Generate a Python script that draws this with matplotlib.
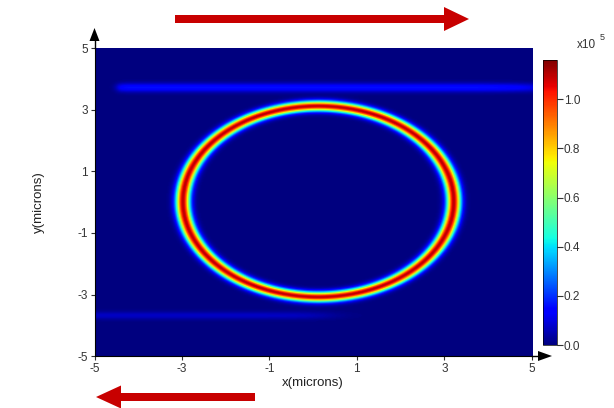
import matplotlib
matplotlib.use("Agg")
import matplotlib.pyplot as plt
import numpy as np
from matplotlib.patches import FancyArrow

plt.rcParams["font.family"] = ["Liberation Sans", "DejaVu Sans"]
plt.rcParams["axes.unicode_minus"] = False

# --- field parameters (units: microns, x1e5) ---
ring_center = (0.1, 0.0)
ring_radius = 3.1
ring_sigma = 0.115
ring_peak = 1.1

bus_y = [3.7, -3.7]            # top / bottom bus waveguide
bus_peak = [0.16, 0.07]
bus_sigma = [0.1, 0.09]
bus_x_start = [-4.5, -5.2]
bus_x_end = [5.2, 0.3]

vmax = 1.16
x_ticks = [-5, -3, -1, 1, 3, 5]
y_ticks = [-5, -3, -1, 1, 3, 5]
cb_ticks = [0.0, 0.2, 0.4, 0.6, 0.8, 1.0]

# --- build the intensity map ---
x = np.linspace(-5, 5, 400)
y = np.linspace(-5, 5, 300)
X, Y = np.meshgrid(x, y)
r = np.hypot(X - ring_center[0], Y - ring_center[1])
field = ring_peak * np.exp(-0.5 * ((r - ring_radius) / ring_sigma) ** 2)
for yc, a, s, x0, x1 in zip(bus_y, bus_peak, bus_sigma, bus_x_start, bus_x_end):
    on = 0.5 * (np.tanh((X - x0) / 0.1) - np.tanh((X - x1) / 0.6))
    field += a * on * np.exp(-0.5 * ((Y - yc) / s) ** 2)

fig = plt.figure(figsize=(6.14, 4.08), dpi=100)
ax = fig.add_axes([0.154, 0.127, 0.712, 0.755])
im = ax.imshow(field, origin="lower", extent=[-5, 5, -5, 5], aspect="auto",
               cmap="jet", vmin=0, vmax=vmax, interpolation="bilinear")
ax.set_xticks(x_ticks)
ax.set_yticks(y_ticks)
ax.tick_params(labelsize=8.5, length=3, colors="#333333", pad=2)
ax.set_xlabel("x(microns)", fontsize=9.5, color="#222222", labelpad=1)
ax.set_ylabel("y(microns)", fontsize=9.5, color="#222222", labelpad=23)
for side in ("top", "right"):
    ax.spines[side].set_visible(False)

cax = fig.add_axes([0.884, 0.154, 0.0228, 0.699])
cb = fig.colorbar(im, cax=cax, ticks=cb_ticks)
cb.ax.set_yticklabels([f"{t:.1f}" for t in cb_ticks])
cb.ax.tick_params(labelsize=8.5, length=4, colors="#333333", pad=1)
cb.outline.set_linewidth(0.5)
fig.text(577 / 614, 1 - 45 / 408, "x10", fontsize=8.5, color="#333333",
         va="center")
fig.text(600 / 614, 1 - 37 / 408, "5", fontsize=6.5, color="#333333",
         va="center")

# overlay in pixel coordinates for the decorative arrows
ov = fig.add_axes([0, 0, 1, 1], facecolor="none")
ov.set_xlim(0, 614)
ov.set_ylim(408, 0)
ov.axis("off")
# axis arrows
ov.plot([94.5, 94.5], [48, 40], color="k", lw=1)
ov.add_patch(FancyArrow(94.5, 42, 0, -14, width=0.01, head_width=10,
                        head_length=13, length_includes_head=True,
                        color="k", lw=0))
ov.plot([532, 540], [356, 356], color="k", lw=1)
ov.add_patch(FancyArrow(537, 356, 15, 0, width=0.01, head_width=10,
                        head_length=14, length_includes_head=True,
                        color="k", lw=0))
# red propagation arrows
ov.add_patch(FancyArrow(175, 19, 294, 0, width=8, head_width=24,
                        head_length=25, length_includes_head=True,
                        color="#c80000", lw=0))
ov.add_patch(FancyArrow(255, 397, -159, 0, width=8, head_width=23,
                        head_length=25, length_includes_head=True,
                        color="#c80000", lw=0))

fig.savefig("out.png", dpi=100)
